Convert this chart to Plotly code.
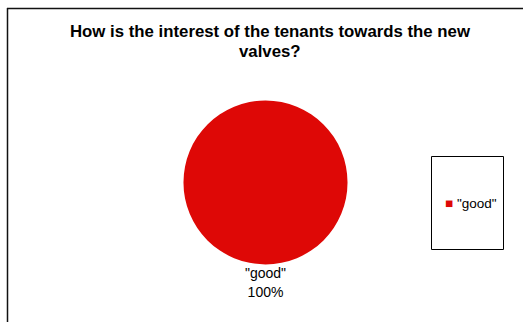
import plotly.graph_objects as go

W, H = 523, 322
labels = ['"good"']
values = [100]
colors = ["#DE0806"]
title_lines = ["How is the interest of the tenants towards the new", "valves?"]

def px(x): return x / W
def py(y): return 1 - y / H

FONT = "Liberation Sans, Arial, sans-serif"
total = sum(values)
slice_label = f"{labels[0]}<br>{values[0] / total:.0%}"

fig = go.Figure()
fig.add_trace(go.Pie(
    labels=labels, values=values,
    marker=dict(colors=colors, line=dict(width=0)),
    sort=False, direction="clockwise", rotation=0,
    textinfo="none",
    title=dict(text=slice_label, position="bottom center",
               font=dict(family=FONT, size=14, color="#000")),
    domain=dict(x=[px(183.5), px(347.5)], y=[py(299.5), py(99.5)]),
    showlegend=False, hoverinfo="label+percent",
))

annotations = []
for i, line in enumerate(title_lines):
    annotations.append(dict(text="<b>" + line + "</b>", x=px(270), y=py(31 + 20 * i),
                            xref="paper", yref="paper", xanchor="center", yanchor="middle",
                            showarrow=False, font=dict(size=16.8, color="#000", family=FONT)))
# legend entry (inside the framed legend box)
annotations.append(dict(
    text='<span style="color:%s">■</span> %s' % (colors[0], labels[0]),
    x=px(443), y=py(203), xref="paper", yref="paper", xanchor="left", yanchor="middle",
    showarrow=False, font=dict(size=13.5, color="#000", family=FONT)))

fig.update_layout(
    width=W, height=H,
    margin=dict(l=0, r=0, t=0, b=0),
    paper_bgcolor="white", plot_bgcolor="white",
    font=dict(family=FONT, color="#000"),
    showlegend=False,
    annotations=annotations,
    shapes=[
        dict(type="line", xref="paper", yref="paper", x0=px(7), x1=px(530), y0=py(8.5), y1=py(8.5),
             line=dict(color="#111", width=1.5)),
        dict(type="line", xref="paper", yref="paper", x0=px(7.5), x1=px(7.5), y0=py(8), y1=py(330),
             line=dict(color="#111", width=1.5)),
        dict(type="rect", xref="paper", yref="paper", x0=px(431.5), x1=px(503.5), y0=py(156.5), y1=py(249.5),
             line=dict(color="#000", width=1)),
    ],
)
fig.write_html("out.html", config={"displayModeBar": False},
               post_script="document.body.style.margin='0';document.body.style.overflow='hidden';")
